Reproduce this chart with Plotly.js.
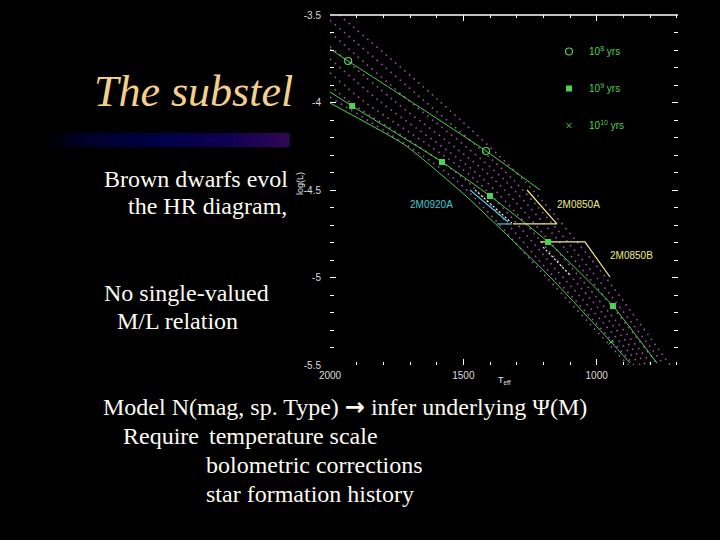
<!DOCTYPE html>
<html><head><meta charset="utf-8">
<script src="https://cdn.plot.ly/plotly-3.0.1.min.js"></script>
<style>html,body{margin:0;padding:0;background:#000;}#chart{width:720px;height:540px;}</style>
</head><body><div id="chart"></div>
<script>
// ---- Evolutionary tracks (dotted magenta): Teff (K) and log(L/Lsun) ----
const track1Teff = [1966, 1591, 1276, 987, 725];
const track1LogL = [-3.50, -3.99, -4.44, -4.96, -5.50];
const track2Teff = [2000, 1647, 1314, 1021, 748];
const track2LogL = [-3.53, -3.99, -4.44, -4.96, -5.50];
const track3Teff = [2000, 1704, 1348, 1051, 770];
const track3LogL = [-3.60, -3.99, -4.44, -4.96, -5.50];
const track4Teff = [2000, 1760, 1385, 1085, 792];
const track4LogL = [-3.68, -3.99, -4.44, -4.96, -5.50];
const track5Teff = [2000, 1816, 1423, 1115, 815];
const track5LogL = [-3.75, -3.99, -4.44, -4.96, -5.50];
const track6Teff = [2000, 1876, 1456, 1149, 837];
const track6LogL = [-3.83, -3.99, -4.44, -4.96, -5.50];
const track7Teff = [2000, 1932, 1494, 1182, 860];
const track7LogL = [-3.90, -3.99, -4.44, -4.96, -5.50];
const track8Teff = [2000, 1531, 1212, 882];
const track8LogL = [-3.97, -4.44, -4.96, -5.50];

// ---- Isochrones (green) ----
const iso8Teff = [2000, 1932, 1700, 1415, 1212];
const iso8LogL = [-3.694, -3.763, -3.991, -4.277, -4.50];
const iso9Teff = [2000, 1917, 1580, 1400, 1182, 939, 774];
const iso9LogL = [-3.94, -4.02, -4.34, -4.534, -4.797, -5.163, -5.489];
const iso10Teff = [2000, 1719, 1486, 1325, 1164, 946, 875];
const iso10LogL = [-4.003, -4.243, -4.54, -4.774, -5.014, -5.369, -5.489];

// ---- Age markers ----
const age8Teff = [1932, 1415];
const age8LogL = [-3.763, -4.277];
const age9Teff = [1917, 1580, 1400, 1182, 939];
const age9LogL = [-4.02, -4.34, -4.534, -4.797, -5.163];
const age10Teff = [946];
const age10LogL = [-5.369];

// ---- Binary components ----
const obj0920ATeff = [1475, 1332, null, 1374, 1318];
const obj0920ALogL = [-4.50, -4.683, null, -4.694, -4.694];
const obj0850ATeff = [1261, 1149, 1314];
const obj0850ALogL = [-4.50, -4.694, -4.694];
const obj0850BTeff = [1212, 1044, 950];
const obj0850BLogL = [-4.797, -4.797, -4.997];
const modelATeff = [1456, 1318];
const modelALogL = [-4.50, -4.689];
const modelBTeff = [1201, 1100];
const modelBLogL = [-4.826, -4.986];

const objLabels = ['2M0920A', '2M0850A', '2M0850B'];
const objLabelTeff = [1621, 1070, 868];
const objLabelLogL = [-4.58, -4.58, -4.877];

const legendNames = ['10<sup>8</sup> yrs', '10<sup>9</sup> yrs', '10<sup>10</sup> yrs'];

const xTickVals = [2000, 1500, 1000];
const xTickText = ['2000', '1500', '1000'];
const yTickVals = [-3.5, -4, -4.5, -5, -5.5];
const yTickText = ['-3.5', '-4', '-4.5', '-5', '-5.5'];

// ---- build ----
const MAG = 'rgba(168,78,182,0.95)';
const GREEN = '#4fd24f';
const traces = [];
const tracks = [[track1Teff,track1LogL],[track2Teff,track2LogL],[track3Teff,track3LogL],[track4Teff,track4LogL],
  [track5Teff,track5LogL],[track6Teff,track6LogL],[track7Teff,track7LogL],[track8Teff,track8LogL]];
tracks.forEach(t => traces.push({x:t[0], y:t[1], mode:'lines', showlegend:false, hoverinfo:'skip',
  line:{color:MAG, width:1.6, dash:'1.6px,4.5px', shape:'spline', smoothing:0.8}}));
[[iso8Teff,iso8LogL],[iso9Teff,iso9LogL],[iso10Teff,iso10LogL]].forEach(t => traces.push({x:t[0], y:t[1], mode:'lines',
  showlegend:false, hoverinfo:'skip', line:{color:GREEN, width:1, shape:'spline', smoothing:0.5}}));
traces.push({x:modelATeff, y:modelALogL, mode:'lines', showlegend:false, line:{color:'#f4f4f4', width:1.2, dash:'2px,2px'}});
traces.push({x:modelBTeff, y:modelBLogL, mode:'lines', showlegend:false, line:{color:'#f4f4f4', width:1.2, dash:'2px,2px'}});
traces.push({x:obj0920ATeff, y:obj0920ALogL, mode:'lines', showlegend:false, line:{color:'#4cc8d8', width:1.2}});
traces.push({x:obj0850ATeff, y:obj0850ALogL, mode:'lines', showlegend:false, line:{color:'#eeee88', width:1.2}});
traces.push({x:obj0850BTeff, y:obj0850BLogL, mode:'lines', showlegend:false, line:{color:'#eeee88', width:1.2}});
traces.push({x:age8Teff, y:age8LogL, mode:'markers', name:legendNames[0], legendgroup:'a',
  marker:{symbol:'circle-open', size:7, color:GREEN, line:{width:1.2, color:GREEN}}});
traces.push({x:age9Teff, y:age9LogL, mode:'markers', name:legendNames[1], legendgroup:'b',
  marker:{symbol:'square', size:6, color:GREEN}});
traces.push({x:age10Teff, y:age10LogL, mode:'markers', name:legendNames[2], legendgroup:'c',
  marker:{symbol:'x-thin', size:5, color:GREEN, line:{width:1, color:GREEN}}});

// pixel -> paper helpers (layout only)
const px = v => (v - 330) / 348;
const py = v => (365 - v) / 350;

const shapes = [{type:'line', xref:'paper', yref:'paper', x0:0, x1:1, y0:1, y1:1, line:{color:'#ffffff', width:1.5}}];
// gradient bar under the title
const stops = [[43,[0,0,0]],[90,[0,0,45]],[160,[0,0,72]],[225,[14,0,80]],[289,[48,8,84]]];
const N = 48;
for (let i = 0; i < N; i++) {
  const xa = 43 + (289 - 43) * i / N, xb = 43 + (289 - 43) * (i + 1) / N, xm = (xa + xb) / 2;
  let c = stops[stops.length-1][1];
  for (let s = 0; s < stops.length - 1; s++) {
    if (xm >= stops[s][0] && xm <= stops[s+1][0]) {
      const f = (xm - stops[s][0]) / (stops[s+1][0] - stops[s][0]);
      c = stops[s][1].map((v, k) => Math.round(v + (stops[s+1][1][k] - v) * f));
    }
  }
  shapes.push({type:'rect', xref:'paper', yref:'paper', x0:px(xa), x1:px(xb)+0.002, y0:py(147), y1:py(133),
    fillcolor:`rgb(${c[0]},${c[1]},${c[2]})`, line:{width:0}, layer:'below'});
}

const serif = 'Liberation Serif, Times New Roman, serif';
const W = '#fbfbf2';
const textAnn = (t, x, y, size, extra) => Object.assign({text:t, xref:'paper', yref:'paper', x:px(x), y:py(y),
  xanchor:'left', yanchor:'middle', showarrow:false, font:{family:serif, size:size, color:W}}, extra || {});

const annotations = [
  textAnn('<i>The substel</i>', 92, 91, 44, {font:{family:serif, size:44, color:'#f3cf8e'}}),
  textAnn('Brown dwarfs evol', 102, 179, 24),
  textAnn('the HR diagram,', 126, 206, 24),
  textAnn('No single-valued', 102, 293, 24),
  textAnn('M/L relation', 115, 321, 24),
  textAnn('Model N(mag, sp. Type) <span style="font-family:DejaVu Sans;font-weight:bold">\u2192</span> infer underlying \u03A8(M)', 101, 407, 24),
  textAnn('Require', 121, 436, 24),
  textAnn('temperature scale', 207, 436, 24),
  textAnn('bolometric corrections', 204, 465, 24),
  textAnn('star formation history', 204, 494, 24),
  {text:'log(L)', xref:'paper', yref:'paper', x:px(293), y:py(184), textangle:-90, showarrow:false,
   font:{family:'Liberation Sans', size:9, color:'#e8e8e8'}},
  {text:'T<sub>eff</sub>', xref:'paper', yref:'paper', x:px(504), y:py(388), showarrow:false,
   font:{family:'Liberation Sans', size:9, color:'#e8e8e8'}},
];
const labelColors = ['#48c8d0', '#ecec80', '#ecec80'];
objLabels.forEach((t, i) => annotations.push({text:t, x:objLabelTeff[i], y:objLabelLogL[i], xref:'x', yref:'y',
  showarrow:false, font:{family:'Liberation Sans', size:10, color:labelColors[i]}}));

const tickFont = {family:'Liberation Sans, Arial, sans-serif', size:10, color:'#dcdcdc'};
const layout = {
  width:720, height:540,
  margin:{l:330, r:42, t:15, b:175, pad:0},
  paper_bgcolor:'#000', plot_bgcolor:'#000',
  showlegend:true,
  legend:{x:px(549), y:py(37), xanchor:'left', yanchor:'top', bgcolor:'rgba(0,0,0,0)', traceorder:'grouped',
    tracegroupgap:18, font:{family:'Liberation Sans', size:10, color:GREEN}},
  xaxis:{range:[2000, 695], tickmode:'array', tickvals:xTickVals, ticktext:xTickText, ticks:'inside', ticklen:6,
    tickcolor:'#fff', tickwidth:1, mirror:'ticks', showline:false, showgrid:false, zeroline:false, tickfont:tickFont,
    ticklabelstandoff:3,
    minor:{tickmode:'linear', tick0:1000, dtick:100, ticks:'inside', ticklen:3, tickcolor:'#fff', showgrid:false}},
  yaxis:{range:[-5.5, -3.5], tickmode:'array', tickvals:yTickVals, ticktext:yTickText, ticks:'inside', ticklen:6,
    tickcolor:'#fff', tickwidth:1, mirror:'ticks', showline:false, showgrid:false, zeroline:false, tickfont:tickFont,
    ticklabelstandoff:8,
    minor:{tickmode:'linear', tick0:-3.5, dtick:0.1, ticks:'inside', ticklen:4, tickcolor:'#fff', showgrid:false}},
  shapes:shapes,
  annotations:annotations
};
Plotly.newPlot('chart', traces, layout, {displayModeBar:false, staticPlot:true});
</script></body></html>
